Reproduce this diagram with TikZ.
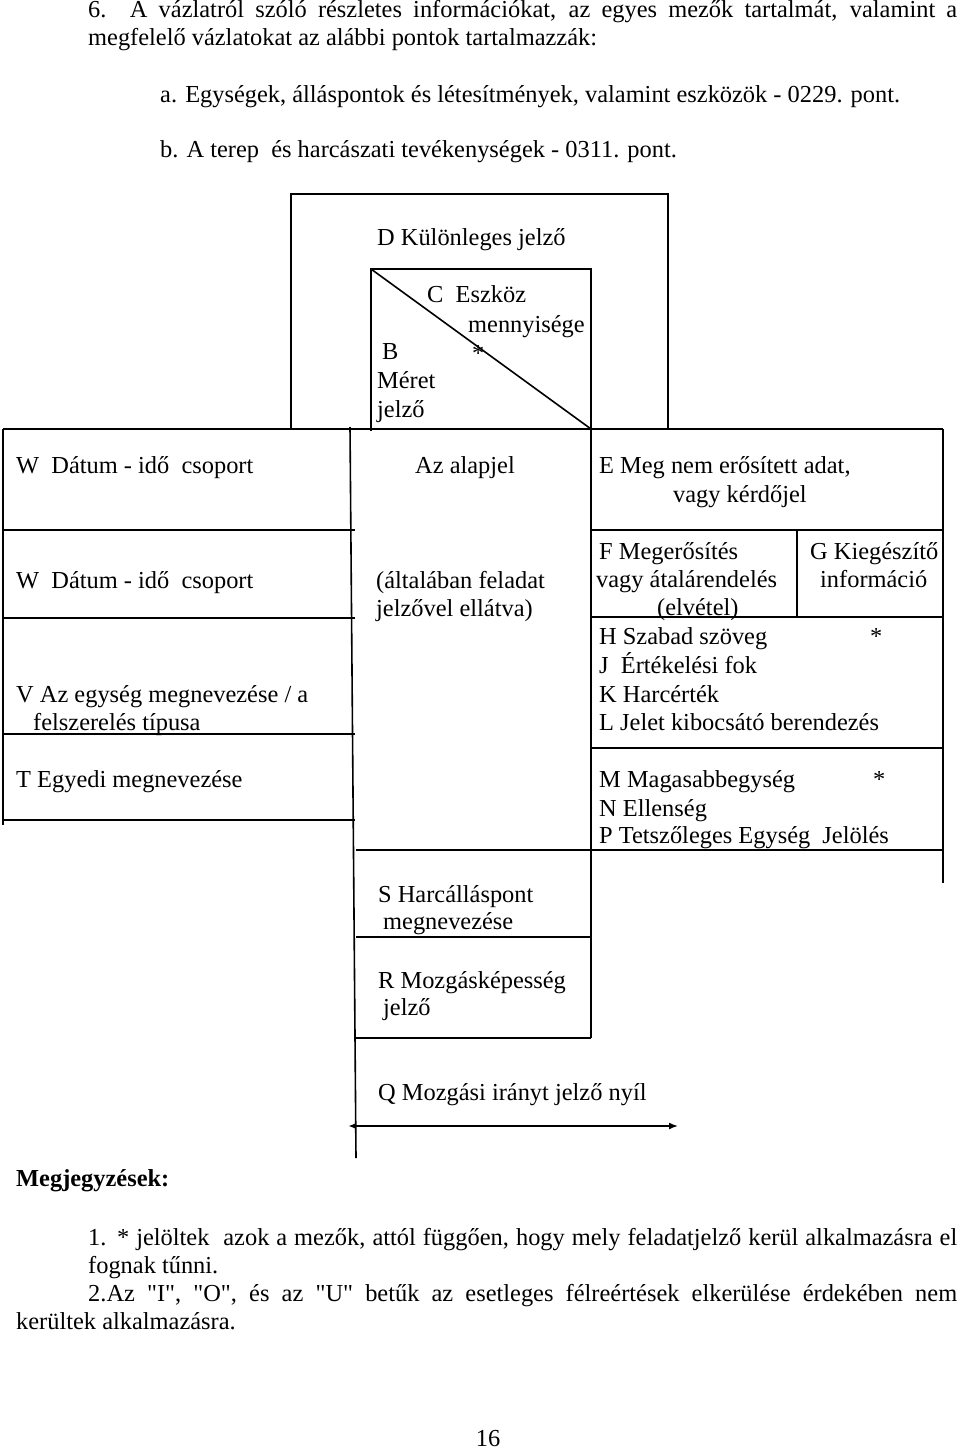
\documentclass[tikz,border=0pt]{standalone}
\usepackage{fontspec}
\setmainfont{Liberation Serif}
\usetikzlibrary{arrows.meta}
\tikzset{lbl/.style={anchor=base west,inner sep=0pt,font=\fontsize{24.4}{28}\selectfont}}
\tikzset{frame/.style={line width=1.6pt}}

\begin{document}
\begin{tikzpicture}[x=1pt,y=-1pt]
\useasboundingbox (0,0) rectangle (960,1450);
% \draw[help lines] (0,0) grid[step=100] (960,1450);
% header text
\node (hdr) [lbl] at (88,18) {\parbox[t]{869pt}{6. A vázlatról szóló részletes információkat, az egyes mezők tartalmát, valamint a\linebreak megfelelő vázlatokat az alábbi pontok tartalmazzák:}};
\node (hdra) [lbl] at (160,103) {a. Egységek, álláspontok és létesítmények, valamint eszközök - 0229. pont.};
\node (hdrb) [lbl] at (160,158) {b. A terep~~és harcászati tevékenységek - 0311. pont.};
%
% D field and B/C box
\draw[frame] (291,428) -- (291,194) -- (668,194) -- (668,429);
\draw[frame] (371,431) -- (371,269) -- (591,269) -- (591,429);
\draw[frame] (371,269) -- (591,429);
\node (d) [lbl] at (377,245) {D Különleges jelző};
\node (c1) [lbl] at (427,302) {C~~Eszköz};
\node (c2) [lbl] at (468,332) {mennyisége};
\node (cstar) [lbl] at (472,361) {*};
\node (b1) [lbl] at (382,359) {B};
\node (b2) [lbl] at (377,388) {Méret};
\node (b3) [lbl] at (377,417) {jelző};
%
% main grid
\draw[frame] (3,429) -- (943,429);
\draw[frame] (3,429) -- (3,825);
\foreach \y in {530,618,734,820} \draw[frame] (3,\y) -- (355,\y);
\draw[frame] (350,427) -- (356,1158);
\draw[frame] (591,429) -- (591,1038);
\draw[frame] (943,429) -- (943,883);
\foreach \y in {530,617,748} \draw[frame] (591,\y) -- (943,\y);
\draw[frame] (797,530) -- (797,617);
\draw[frame] (356,850) -- (943,850);
\draw[frame] (356,937) -- (591,937);
\draw[frame] (356,1038) -- (591,1038);
%
% left column
\node (w1) [lbl] at (16,473) {W~~Dátum - idő~~csoport};
\node (w2) [lbl] at (16,588) {W~~Dátum - idő~~csoport};
\node (v1) [lbl] at (16,702) {V Az egység megnevezése / a};
\node (v2) [lbl] at (33,730) {felszerelés típusa};
\node (t) [lbl] at (16,787) {T Egyedi megnevezése};
%
% middle column
\node (az) [lbl] at (415,473) {Az alapjel};
\node (alt1) [lbl] at (376,588) {(általában feladat};
\node (alt2) [lbl] at (376,616) {jelzővel ellátva)};
\node (s1) [lbl] at (378,902) {S Harcálláspont};
\node (s2) [lbl] at (383,929) {megnevezése};
\node (r1) [lbl] at (378,988) {R Mozgásképesség};
\node (r2) [lbl] at (383,1015) {jelző};
\node (q) [lbl] at (378,1100) {Q Mozgási irányt jelző nyíl};
\coordinate (qL) at (348,1126);
\coordinate (qR) at (678,1126);
\draw[frame,{Latex[length=7pt,width=5pt]}-{Latex[length=9pt,width=7pt]}] (qL) -- (qR);
%
% right column
\node (e1) [lbl] at (599,473) {E Meg nem erősített adat,};
\node (e2) [lbl] at (673,502) {vagy kérdőjel};
\node (f1) [lbl] at (599,559) {F Megerősítés};
\node (f2) [lbl] at (596,587) {vagy átalárendelés};
\node (f3) [lbl] at (657,615) {(elvétel)};
\node (g1) [lbl] at (810,559) {G Kiegészítő};
\node (g2) [lbl] at (820,587) {információ};
\node (h) [lbl] at (599,644) {H Szabad szöveg};
\node (hstar) [lbl] at (870,644) {*};
\node (j) [lbl] at (599,673) {J~~Értékelési fok};
\node (k) [lbl] at (599,702) {K Harcérték};
\node (l) [lbl] at (599,730) {L Jelet kibocsátó berendezés};
\node (m) [lbl] at (599,787) {M Magasabbegység};
\node (mstar) [lbl] at (873,787) {*};
\node (n) [lbl] at (599,816) {N Ellenség};
\node (p) [lbl] at (599,843) {P Tetszőleges Egység~~Jelölés};
%
% notes
\node (notes) [lbl] at (16,1186) {\bfseries Megjegyzések:};
\node (note1) [lbl] at (88,1245) {\parbox[t]{869pt}{1. * jelöltek~~azok a mezők, attól függően, hogy mely feladatjelző kerül alkalmazásra el\linebreak fognak tűnni.}};
\node (note2) [lbl] at (16,1301) {\parbox[t]{941pt}{\hspace*{72pt}2.Az \textquotedbl I\textquotedbl, \textquotedbl O\textquotedbl, és az \textquotedbl U\textquotedbl{} betűk az esetleges félreértések elkerülése érdekében nem\linebreak kerültek alkalmazásra.}};
\node (pg) [lbl,anchor=base] at (488,1446) {16};
\end{tikzpicture}
\end{document}
